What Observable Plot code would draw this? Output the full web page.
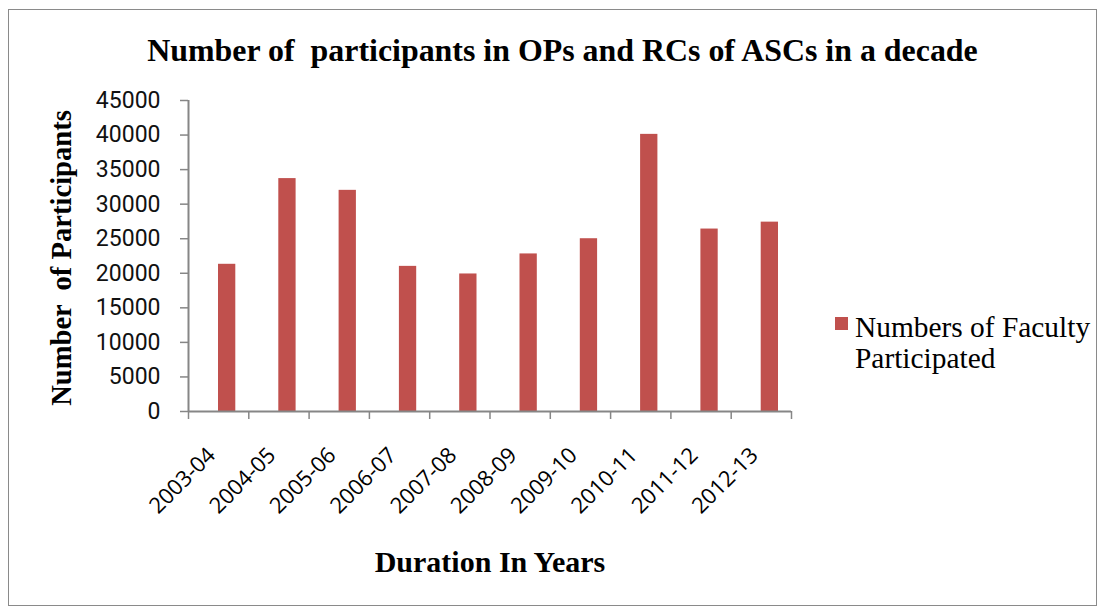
<!DOCTYPE html>
<html>
<head>
<meta charset="utf-8">
<script src="https://cdn.jsdelivr.net/npm/d3@7"></script>
<script src="https://cdn.jsdelivr.net/npm/@observablehq/plot@0.6"></script>
<style>
  html, body { margin: 0; padding: 0; background: #fff; }
  #wrap { position: relative; width: 1105px; height: 610px; overflow: hidden; }
  #border { position: absolute; left: 8px; top: 9px; width: 1087px; height: 595px; border: 1.5px solid #8a8a8a; }
  #plot { position: absolute; left: 0; top: 0; }
  .serif { font-family: "Liberation Serif", "Times New Roman", serif; color: #000; position: absolute; white-space: pre; }
  #title { left: 0; width: 1125px; text-align: center; top: 36px; font-size: 31.9px; line-height: 30px; font-weight: bold; }
  #xlabel { left: 0; width: 980px; text-align: center; top: 547px; font-size: 30px; line-height: 30px; font-weight: bold; }
  #ylabel { left: -138px; width: 400px; text-align: center; top: 243px; font-size: 28.6px; line-height: 30px; font-weight: bold; transform: rotate(-90deg); transform-origin: 200px 15px; }
  #legend-swatch { position: absolute; left: 835px; top: 317px; width: 13px; height: 13px; background: #C0504D; }
  #legend-text { left: 855px; top: 312px; font-size: 29.4px; line-height: 31px; }
</style>
</head>
<body>
<div id="wrap">
  <div id="border"></div>
  <div id="plot"></div>
  <div id="title" class="serif">Number of  participants in OPs and RCs of ASCs in a decade</div>
  <div id="ylabel" class="serif">Number  of Participants</div>
  <div id="xlabel" class="serif">Duration In Years</div>
  <div id="legend-swatch"></div>
  <div id="legend-text" class="serif">Numbers of Faculty
Participated</div>
</div>
<script>
const years = ["2003-04", "2004-05", "2005-06", "2006-07", "2007-08", "2008-09", "2009-10", "2010-11", "2011-12", "2012-13"];
const participants = [21300, 33700, 32000, 21000, 19900, 22800, 25000, 40100, 26400, 27400];
const yTicks = [0, 5000, 10000, 15000, 20000, 25000, 30000, 35000, 40000, 45000];
const seriesName = "Numbers of Faculty Participated";

const rows = years.map((year, i) => ({ i, year, value: participants[i] }));
const boundaries = d3.range(years.length + 1);
const centers = years.map((_, i) => i + 0.5);

const axisColor = "#868686";

const chart = Plot.plot({
  width: 1105,
  height: 610,
  marginLeft: 188,
  marginRight: 314,
  marginTop: 100,
  marginBottom: 199,
  style: { background: "transparent", overflow: "visible" },
  x: { type: "linear", domain: [0, years.length], axis: null },
  y: { domain: [0, 45000], axis: null },
  marks: [
    Plot.rectY(rows, {
      x1: "i",
      x2: d => d.i + 1,
      y: "value",
      fill: "#C0504D",
      insetLeft: 30,
      insetRight: 13,
      title: d => `${seriesName}: ${d.value}`
    }),
    Plot.axisY({
      ticks: yTicks, tickSize: 8, tickPadding: 20,
      tickFormat: d => String(d),
      stroke: axisColor, strokeWidth: 1.5, fill: "#111",
      fontSize: 23, fontFamily: "Roboto",
      label: null
    }),
    Plot.axisX({
      ticks: boundaries, tickSize: 8, tickFormat: () => "",
      stroke: axisColor, strokeWidth: 1.5, label: null
    }),
    Plot.axisX({
      ticks: centers,
      tickSize: 0,
      tickPadding: 0,
      tickFormat: v => years[Math.floor(v)],
      rotate: -45,
      textAnchor: "end",
      lineAnchor: "middle",
      dx: -7,
      dy: 40,
      fill: "#000",
      fontSize: 22, fontFamily: "Open Sans",
      label: null
    }),
    Plot.ruleY([0], { stroke: axisColor, strokeWidth: 2 }),
    Plot.ruleX([0], { stroke: axisColor, strokeWidth: 2 })
  ]
});
// text styling of the axis labels
d3.select(chart).selectAll("text").each(function () {
  const t = this.textContent;
  if (years.includes(t)) {
    this.style.fontSize = "22px";
    this.style.fontFamily = "'Open Sans', sans-serif";
  } else if (/^\d+$/.test(t)) {
    this.style.fontSize = "23px";
    this.style.fontFamily = "Roboto, sans-serif";
  }
});
document.getElementById("plot").appendChild(chart);
</script>
</body>
</html>
